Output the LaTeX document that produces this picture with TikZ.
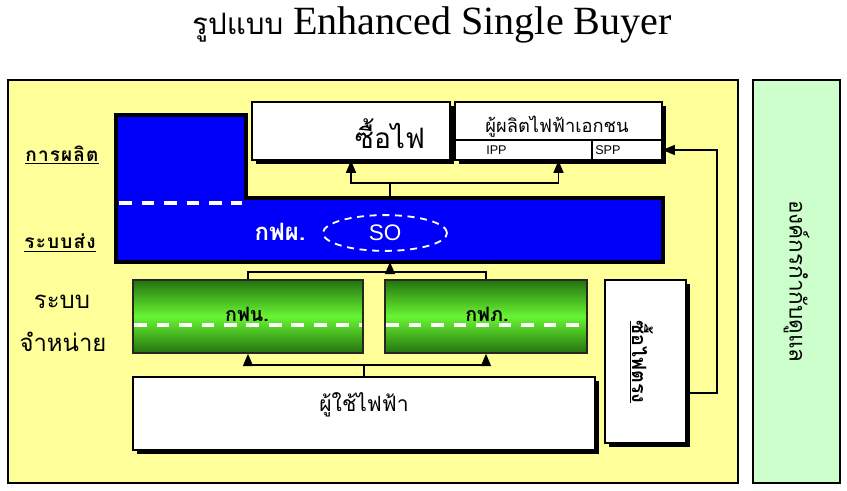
\documentclass[tikz,border=0pt]{standalone}
\usepackage{fontspec}
\setmainfont{Liberation Serif}
\newfontfamily\thaifont[Script=Thai]{Loma}
\newfontfamily\thaiwide[Script=Thai,LetterSpace=6]{Loma}
\newfontfamily\arialfont{Liberation Sans}
\usetikzlibrary{shapes,arrows,positioning,fit,shadows,backgrounds}
\definecolor{paleyellow}{RGB}{255,255,153}
\definecolor{palegreen}{RGB}{204,255,204}
\definecolor{egatblue}{RGB}{0,0,250}
\definecolor{darkgreen}{RGB}{35,115,15}
\definecolor{brightgreen}{RGB}{105,245,50}

\tikzset{
  panel/.style={draw, line width=1.2pt, inner sep=0pt},
  whitebox/.style={draw, fill=white, line width=0.8pt, inner sep=0pt,
    drop shadow={shadow xshift=0.1cm, shadow yshift=-0.1cm, fill=black, opacity=1}},
  cell/.style={draw, fill=white, line width=0.8pt, inner sep=0pt},
  distbox/.style={draw=black!85, line width=1.2pt, inner sep=0pt,
    top color=darkgreen, bottom color=darkgreen, middle color=brightgreen},
  conn/.style={line width=1pt},
  arr/.style={conn, -triangle 45},
  whitedash/.style={white, line width=2.2pt, dash pattern=on 9pt off 7pt},
  sidelbl/.style={font=\thaiwide\bfseries\fontsize{13.5}{16}\selectfont},
  distlbl/.style={font=\thaifont\fontsize{17}{20}\selectfont}
}

\begin{document}
\begin{tikzpicture}[x=0.025cm, y=-0.025cm]
  \useasboundingbox (0,0) rectangle (847,491);
  \fill[white] (0,0) rectangle (847,491);

  % title
  \node[font=\fontsize{28.5}{32}\selectfont] (title) at (432,25) {{\thaifont\fontsize{21}{26}\selectfont รูปแบบ} Enhanced Single Buyer};

  % main panels
  \node[panel, fill=paleyellow, fit={(8,80) (738,483)}] (market) {};
  \node[panel, fill=palegreen, fit={(753,80) (840,483)}] (regulator) {};
  \node[rotate=-90, font=\thaifont\fontsize{16}{18}\selectfont] (reglbl) at (regulator.center) {องค์กรกำกับดูแล};

  % side labels
  \node[sidelbl] (genlbl) at (62,155) {\underline{การผลิต}};
  \node[sidelbl] (translbl) at (60,243) {\underline{ระบบส่ง}};
  \node[distlbl] (distlbl1) at (62,302) {ระบบ};
  \node[distlbl] (distlbl2) at (63,342) {จำหน่าย};

  % EGAT block
  \fill[egatblue, draw=black, line width=3.5pt, line join=miter]
    (116,115) -- (246,115) -- (246,198) -- (663,198) -- (663,262) -- (116,262) -- cycle;
  \draw[whitedash] (119,203) -- (242,203);
  \coordinate (egattop) at (390,198);
  \coordinate (egatbot) at (390,262);
  \node[text=white, font=\thaifont\bfseries\fontsize{17}{20}\selectfont] (egat) at (280,232) {กฟผ.};
  \node[ellipse, draw=white, dash pattern=on 5pt off 4pt, line width=1.3pt, minimum width=3.1cm, minimum height=0.88cm,
    text=white, font=\arialfont\fontsize{16}{18}\selectfont] (so) at (385,233) {SO};

  % buyers and producers
  \node[whitebox, fit={(252,102) (450,160)}] (buy) {};
  \node[font=\thaifont\fontsize{20}{24}\selectfont] (buylbl) at (390,134) {ซื้อไฟ};
  \node[whitebox, fit={(455,102) (662,160)}] (private) {};
  \node[cell, fit={(592,140) (662,160)}] (spp) {};
  \node[cell, fit={(455,140) (592,160)}] (ipp) {};
  \node[font=\thaifont\fontsize{13}{15}\selectfont] (privlbl) at (557,127) {ผู้ผลิตไฟฟ้าเอกชน};
  \node[anchor=west, font=\arialfont\fontsize{9}{10}\selectfont, inner sep=0pt] (ipplbl) at (486,150) {IPP};
  \node[anchor=west, font=\arialfont\fontsize{9}{10}\selectfont, inner sep=0pt] (spplbl) at (595,150) {SPP};

  \coordinate (upjoin) at (390,183);
  \draw[conn] (egattop) -- (upjoin);
  \draw[arr] (upjoin) -| (buy.south);
  \draw[arr] (upjoin) -| (private.south);

  % distribution
  \node[distbox, fit={(133,280) (363,353)}] (mea) {};
  \node[distbox, fit={(385,280) (587,353)}] (pea) {};
  \draw[whitedash] (134,325) -- (362,325);
  \draw[whitedash] (386,325) -- (586,325);
  \node[font=\thaifont\bfseries\fontsize{14}{16}\selectfont] (mealbl) at (247,314) {กฟน.};
  \node[font=\thaifont\bfseries\fontsize{14}{16}\selectfont] (pealbl) at (487,314) {กฟภ.};

  \coordinate (midjoin) at (390,272);
  \draw[conn] (mea.north) |- (midjoin) -| (pea.north);
  \draw[arr] (midjoin) -- (egatbot);

  % consumers
  \node[whitebox, fit={(133,377) (595,450)}] (users) {};
  \node[font=\thaifont\fontsize{15}{18}\selectfont] (userlbl) at (364,405) {ผู้ใช้ไฟฟ้า};
  \coordinate (lowjoin) at (364,365);
  \draw[conn] (users.north) -- (lowjoin);
  \draw[arr] (lowjoin) -| (mea.south);
  \draw[arr] (lowjoin) -| (pea.south);

  % direct purchase
  \node[whitebox, fit={(605,280) (686,443)}] (direct) {};
  \node[rotate=-90, font=\thaifont\bfseries\fontsize{14}{16}\selectfont] (directlbl) at (641,362) {\underline{ซื้อไฟตรง}};
  \coordinate (rightturn) at (717,150);
  \draw[arr] (direct.east |- 0,393) -| (rightturn) -- (spp.east);
\end{tikzpicture}
\end{document}
